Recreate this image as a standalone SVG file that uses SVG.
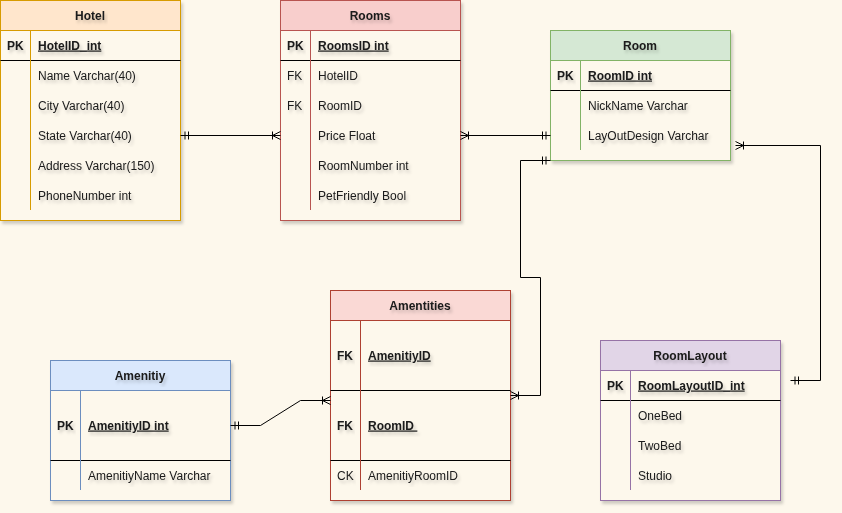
<svg xmlns="http://www.w3.org/2000/svg" width="842" height="513" viewBox="0 0 842 513">
<defs>
<style>
.t{font-family:"Liberation Sans",Arial,Helvetica,sans-serif;font-size:12px;fill:#1a1a1a;filter:url(#ts)}
.h{font-weight:bold;text-anchor:middle}
.b{font-weight:bold}
.u{font-weight:bold;text-decoration:underline}
.ln{stroke:#000;stroke-width:1;fill:none}
.conn path{stroke:#000;stroke-width:1;fill:none}
.box{filter:url(#bs)}
</style>
<filter id="bs" x="-10%" y="-10%" width="120%" height="120%">
<feDropShadow dx="2" dy="3" stdDeviation="1.5" flood-color="#000" flood-opacity="0.18"/>
</filter>
<filter id="ts" x="-10%" y="-30%" width="120%" height="160%">
<feDropShadow dx="2" dy="3" stdDeviation="1.5" flood-color="#000" flood-opacity="0.18"/>
</filter>
<marker id="one" viewBox="0 0 20 20" markerWidth="20" markerHeight="20" refX="10" refY="10" orient="auto-start-reverse" markerUnits="userSpaceOnUse" overflow="visible">
<path d="M5.5 6v8M2 6v8" stroke="#000" fill="none"/>
</marker>
<marker id="many" viewBox="0 0 20 20" markerWidth="20" markerHeight="20" refX="10" refY="10" orient="auto-start-reverse" markerUnits="userSpaceOnUse" overflow="visible">
<path d="M10 6L2 10L10 14M2 6v8" stroke="#000" fill="none"/>
</marker>
</defs>
<rect x="0" y="0" width="842" height="513" fill="#fdf8ec"/>

<g id="hotel">
<rect class="box" x="0.5" y="0.5" width="180" height="220" fill="#fdf8ec" stroke="#d79b00"/>
<rect x="0.5" y="0.5" width="180" height="30" fill="#ffe6cc" stroke="#d79b00"/>
<path class="ln" d="M0.5 60.5H180.5"/>
<path d="M30.5 30.5V210" stroke="#d79b00" fill="none"/>
<text class="t h" x="90" y="19.5">Hotel</text>
<text class="t b" x="7" y="49.5">PK</text>
<text class="t u" x="38" y="49.5">HotelID_int</text>
<text class="t" x="38" y="79.5">Name Varchar(40)</text>
<text class="t" x="38" y="109.5">City Varchar(40)</text>
<text class="t" x="38" y="139.5">State Varchar(40)</text>
<text class="t" x="38" y="169.5">Address Varchar(150)</text>
<text class="t" x="38" y="199.5">PhoneNumber int</text>
</g>

<g id="rooms">
<rect class="box" x="280.5" y="0.5" width="180" height="220" fill="#fdf8ec" stroke="#b85450"/>
<rect x="280.5" y="0.5" width="180" height="30" fill="#f8cecc" stroke="#b85450"/>
<path class="ln" d="M280.5 60.5H460.5"/>
<path d="M310.5 30.5V210" stroke="#b85450" fill="none"/>
<text class="t h" x="370" y="19.5">Rooms</text>
<text class="t b" x="287" y="49.5">PK</text>
<text class="t u" x="318" y="49.5">RoomsID int</text>
<text class="t" x="287" y="79.5">FK</text>
<text class="t" x="318" y="79.5">HotelID</text>
<text class="t" x="287" y="109.5">FK</text>
<text class="t" x="318" y="109.5">RoomID</text>
<text class="t" x="318" y="139.5">Price Float</text>
<text class="t" x="318" y="169.5">RoomNumber int</text>
<text class="t" x="318" y="199.5">PetFriendly Bool</text>
</g>

<g id="room">
<rect class="box" x="550.5" y="30.5" width="180" height="130" fill="#fdf8ec" stroke="#82b366"/>
<rect x="550.5" y="30.5" width="180" height="30" fill="#d5e8d4" stroke="#82b366"/>
<path class="ln" d="M550.5 90.5H730.5"/>
<path d="M580.5 60.5V150" stroke="#82b366" fill="none"/>
<text class="t h" x="640" y="49.5">Room</text>
<text class="t b" x="557" y="79.5">PK</text>
<text class="t u" x="588" y="79.5">RoomID int</text>
<text class="t" x="588" y="109.5">NickName Varchar</text>
<text class="t" x="588" y="139.5">LayOutDesign Varchar</text>
</g>

<g id="amentities">
<rect class="box" x="330.5" y="290.5" width="180" height="210" fill="#fdf8ec" stroke="#ae4132"/>
<rect x="330.5" y="290.5" width="180" height="30" fill="#fad9d5" stroke="#ae4132"/>
<path class="ln" d="M330.5 390.5H510.5M330.5 460.5H510.5"/>
<path d="M360.5 320.5V490" stroke="#ae4132" fill="none"/>
<text class="t h" x="420" y="309.5">Amentities</text>
<text class="t b" x="337" y="359.5">FK</text>
<text class="t u" x="368" y="359.5">AmenitiyID</text>
<text class="t b" x="337" y="429.5">FK</text>
<text class="t u" x="368" y="429.5" xml:space="preserve">RoomID </text>
<text class="t" x="337" y="479.5">CK</text>
<text class="t" x="368" y="479.5">AmenitiyRoomID</text>
</g>

<g id="amenitiy">
<rect class="box" x="50.5" y="360.5" width="180" height="140" fill="#fdf8ec" stroke="#6c8ebf"/>
<rect x="50.5" y="360.5" width="180" height="30" fill="#dae8fc" stroke="#6c8ebf"/>
<path class="ln" d="M50.5 460.5H230.5"/>
<path d="M80.5 390.5V490" stroke="#6c8ebf" fill="none"/>
<text class="t h" x="140" y="379.5">Amenitiy</text>
<text class="t b" x="57" y="429.5">PK</text>
<text class="t u" x="88" y="429.5">AmenitiyID int</text>
<text class="t" x="88" y="479.5">AmenitiyName Varchar</text>
</g>

<g id="roomlayout">
<rect class="box" x="600.5" y="340.5" width="180" height="160" fill="#fdf8ec" stroke="#9673a6"/>
<rect x="600.5" y="340.5" width="180" height="30" fill="#e1d5e7" stroke="#9673a6"/>
<path class="ln" d="M600.5 400.5H780.5"/>
<path d="M630.5 370.5V490" stroke="#9673a6" fill="none"/>
<text class="t h" x="690" y="359.5">RoomLayout</text>
<text class="t b" x="607" y="389.5">PK</text>
<text class="t u" x="638" y="389.5">RoomLayoutID_int</text>
<text class="t" x="638" y="419.5">OneBed</text>
<text class="t" x="638" y="449.5">TwoBed</text>
<text class="t" x="638" y="479.5">Studio</text>
</g>

<g id="connectors" class="conn">
<path d="M180.5 135.5H280.5" marker-start="url(#one)" marker-end="url(#many)"/>
<path d="M460.5 135.5H550.5" marker-start="url(#many)" marker-end="url(#one)"/>
<path d="M550.5 160.5H520.5V277.5H540.5V395.5H510.5" marker-start="url(#one)" marker-end="url(#many)"/>
<path d="M735.5 145.5H820.5V380.5H790.5" marker-start="url(#many)" marker-end="url(#one)"/>
<path d="M230.5 425.5H260.5L300.5 400.5H330.5" marker-start="url(#one)" marker-end="url(#many)"/>
</g>
</svg>
